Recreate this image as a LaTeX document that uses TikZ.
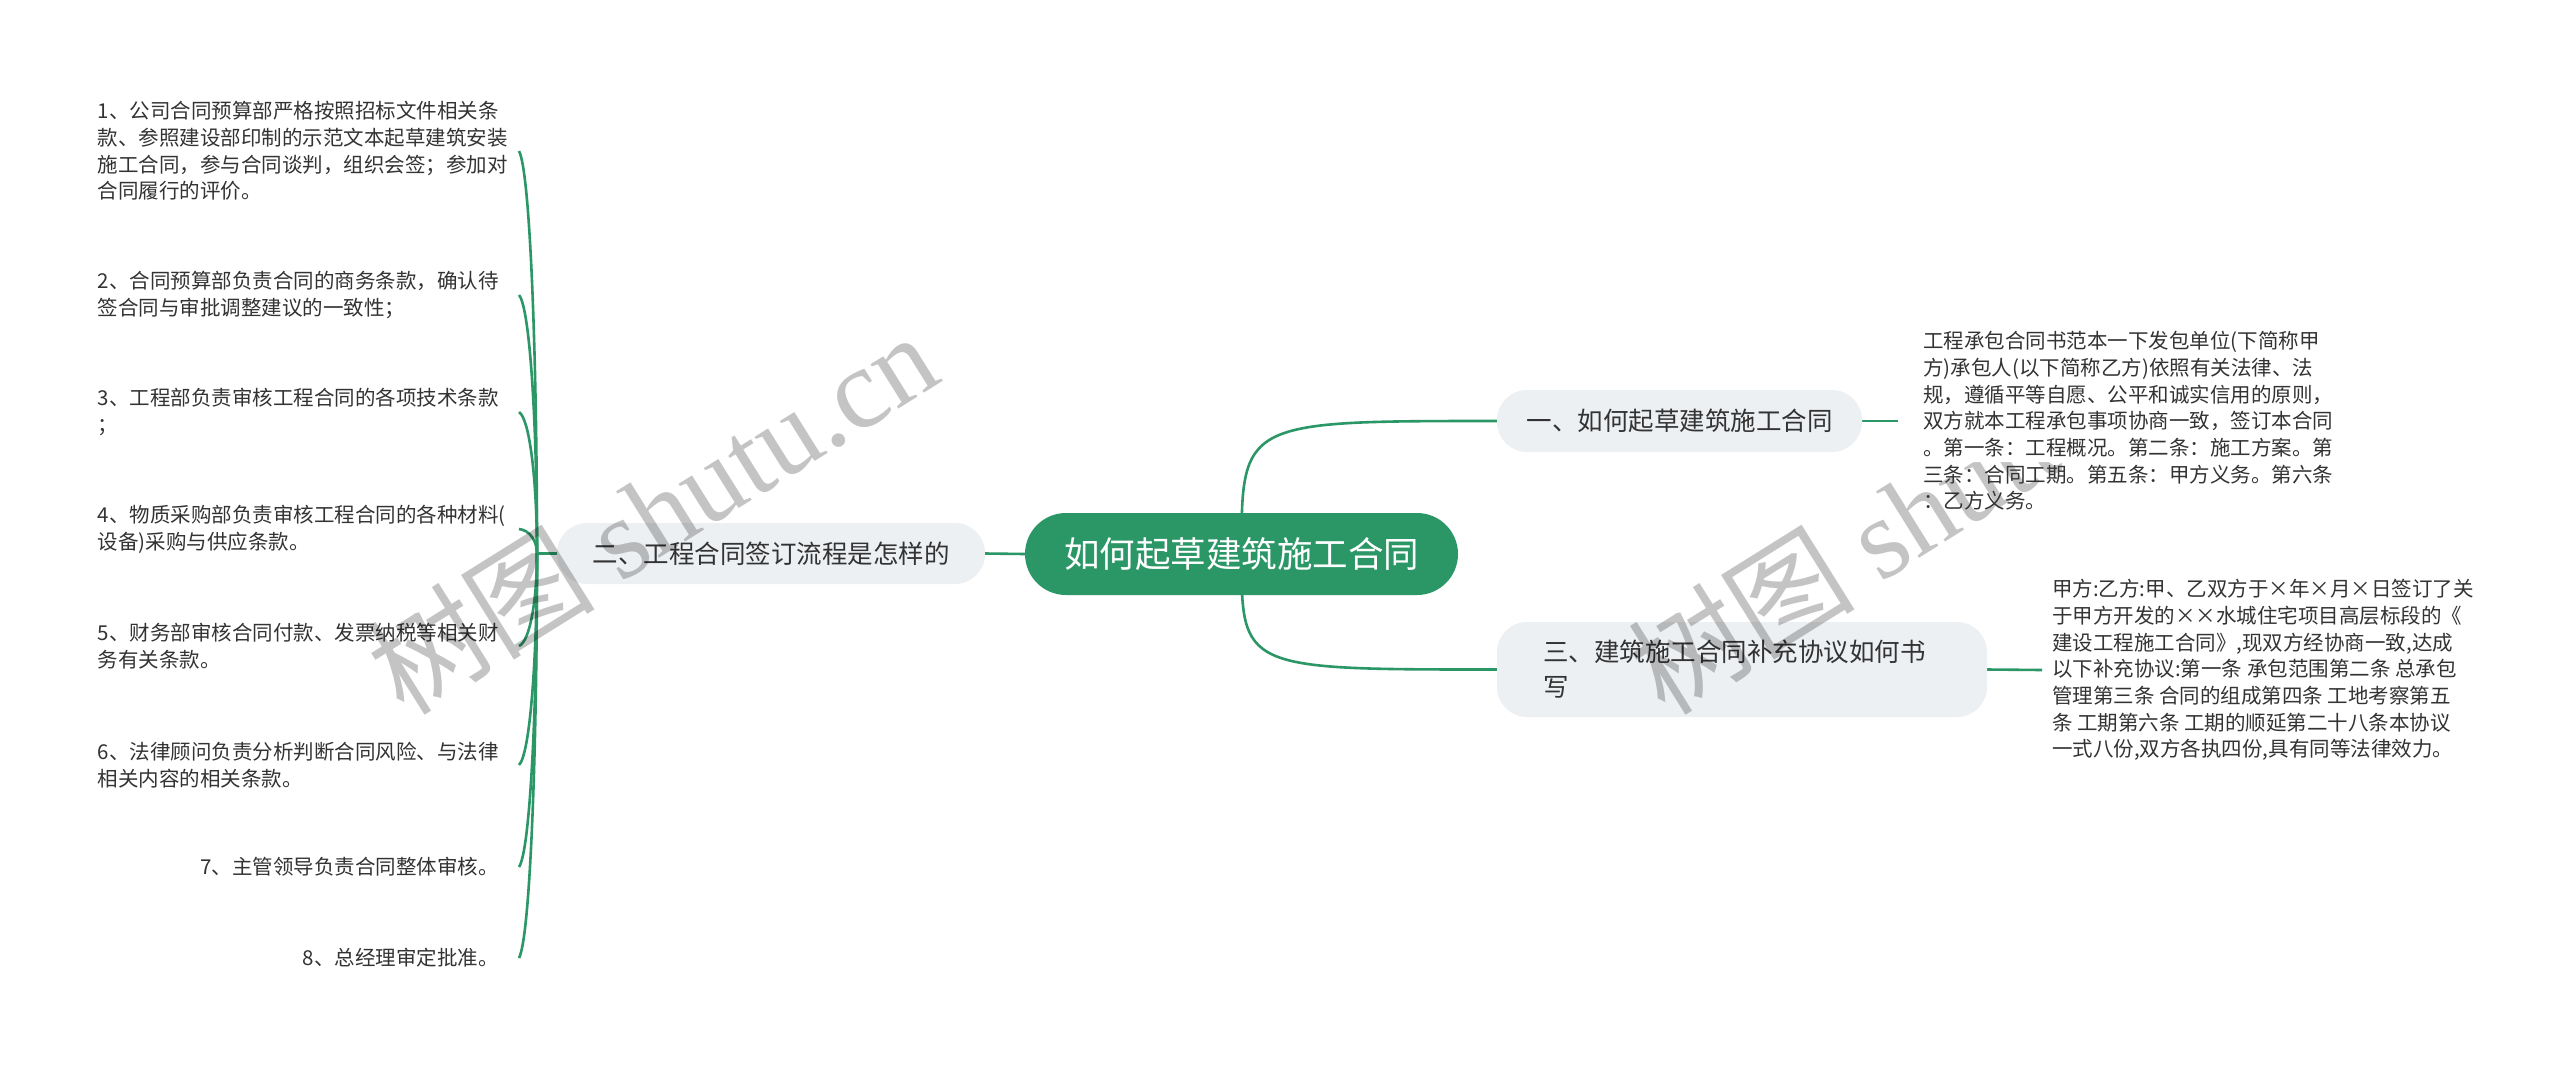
\documentclass[tikz,border=0pt]{standalone}
\usepackage{fontspec}
\setmainfont{Noto Sans CJK SC}
\newfontfamily\wmlatin{Liberation Serif}
\usetikzlibrary{backgrounds}
\definecolor{mgreen}{HTML}{2B9666}
\definecolor{bfill}{HTML}{EDF0F3}
\definecolor{txt}{HTML}{333333}
\definecolor{wm}{HTML}{C4C4C4}
\begin{document}
\begin{tikzpicture}[x=1pt,y=-1pt,
  conn/.style={draw=mgreen, line width=2.6pt},
  root/.style={fill=mgreen, text=white, rounded corners=41pt, minimum width=433pt, minimum height=82pt, inner sep=0pt, font=\fontsize{35.5}{42}\selectfont},
  branch/.style={fill=bfill, text=txt, rounded corners=30pt, inner ysep=0pt, font=\fontsize{25.5}{35}\selectfont},
  leaf/.style={text=txt, inner ysep=0pt, font=\fontsize{20.5}{26.7}\selectfont},
  wmark/.style={text=wm, rotate=32, inner sep=0pt, font=\fontsize{114}{114}\selectfont}
]
\useasboundingbox (0,0) rectangle (2560,1069);

% nodes
\node[root] (c) at (1241.5,554) {如何起草建筑施工合同};
\node[branch, minimum width=365pt, minimum height=62pt, inner xsep=0pt] (n1) at (1679.5,421) {一、如何起草建筑施工合同};
\node[branch, minimum width=428pt, minimum height=61pt, inner xsep=0pt] (n2) at (771,553.5) {二、工程合同签订流程是怎样的};
\node[branch, minimum height=95pt, inner xsep=46pt, text width=398pt, align=left] (n3) at (1742,669.5) {三、建筑施工合同补充协议如何书\\写};

\node[leaf, anchor=west, align=left, inner xsep=10pt] (b3) at (2042,670) {甲方:乙方:甲、乙双方于×年×月×日签订了关\\于甲方开发的××水城住宅项目高层标段的《\\建设工程施工合同》,现双方经协商一致,达成\\以下补充协议:第一条 承包范围第二条 总承包\\管理第三条 合同的组成第四条 工地考察第五\\条 工期第六条 工期的顺延第二十八条本协议\\一式八份,双方各执四份,具有同等法律效力。};

\node[leaf, anchor=east, inner xsep=20pt, text width=401pt, align=left] (l1) at (519,151) {1、公司合同预算部严格按照招标文件相关条\\款、参照建设部印制的示范文本起草建筑安装\\施工合同，参与合同谈判，组织会签；参加对\\合同履行的评价。};
\node[leaf, anchor=east, inner xsep=20pt, text width=401pt, align=left] (l2) at (519,295) {2、合同预算部负责合同的商务条款，确认待\\签合同与审批调整建议的一致性；};
\node[leaf, anchor=east, inner xsep=20pt, text width=401pt, align=left] (l3) at (519,412) {3、工程部负责审核工程合同的各项技术条款\\；};
\node[leaf, anchor=east, inner xsep=20pt, text width=401pt, align=left] (l4) at (519,529) {4、物质采购部负责审核工程合同的各种材料(\\设备)采购与供应条款。};
\node[leaf, anchor=east, inner xsep=20pt, text width=401pt, align=left] (l5) at (519,646) {5、财务部审核合同付款、发票纳税等相关财\\务有关条款。};
\node[leaf, anchor=east, inner xsep=20pt, text width=401pt, align=left] (l6) at (519,765) {6、法律顾问负责分析判断合同风险、与法律\\相关内容的相关条款。};
\node[leaf, anchor=east, inner xsep=20pt, text width=401pt, align=right] (l7) at (519,867) {7、主管领导负责合同整体审核。};
\node[leaf, anchor=east, inner xsep=20pt, text width=401pt, align=right] (l8) at (519,958) {8、总经理审定批准。};

% watermarks
\begin{scope}[blend mode=multiply]
  \node[wmark] (w1) at (652,512) {树图 {\wmlatin shutu.cn}};
  \node[wmark] (w2) at (1912,512) {树图 {\wmlatin shutu.cn}};
\end{scope}

% the right text block hides the end of the second watermark
\fill[white] (1898,326) -- (2370,326) -- (2370,518) -- (2062,518) -- (2062,462) -- (1898,462) -- cycle;
\node[leaf, anchor=west, align=left, inner xsep=25pt] (b1) at (1898,421) {工程承包合同书范本一下发包单位(下简称甲\\方)承包人(以下简称乙方)依照有关法律、法\\规，遵循平等自愿、公平和诚实信用的原则，\\双方就本工程承包事项协商一致，签订本合同\\。第一条：工程概况。第二条：施工方案。第\\三条：合同工期。第五条：甲方义务。第六条\\：乙方义务。};

\coordinate (hub) at (537,553.5);

\begin{pgfonlayer}{background}
  \fill[white] (0,0) rectangle (2560,1069);
  \draw[conn] (c.center) .. controls (c.center |- n1.west) .. (n1.west);
  \draw[conn] (c.center) .. controls (c.center |- n3.west) .. (n3.west);
  \draw[conn] (n1.east) -- (b1.west);
  \draw[conn] (n3.east) -- (b3.west);
  \draw[conn] (c.west) -- (n2.east);
  \draw[conn] (n2.west) -- (hub);
  \foreach \i/\Y in {1/151,2/295,3/412,4/529,5/646,6/765,7/867,8/958}{
    \draw[conn] (hub) .. controls (537,{553.5+(\Y-553.5)*0.5}) and (530,{\Y+(553.5-\Y)*0.05}) .. (l\i.east);
  }
\end{pgfonlayer}
\end{tikzpicture}
\end{document}
